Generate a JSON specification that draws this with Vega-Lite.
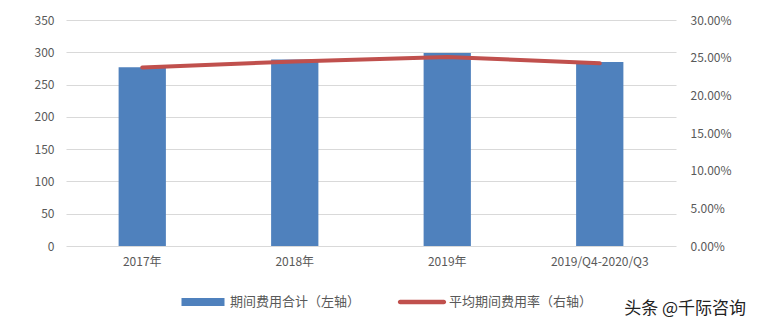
{
  "$schema": "https://vega.github.io/schema/vega-lite/v6.json",
  "width": 610,
  "height": 226,
  "autosize": "none",
  "padding": {"left": 66, "top": 20, "right": 94, "bottom": 82},
  "background": "white",
  "config": {
    "view": {"stroke": null},
    "font": "Noto Sans CJK SC",
    "axis": {"labelFont": "Noto Sans CJK SC", "labelColor": "#595959", "labelFontSize": 12}
  },
  "title": {
    "text": "头条 @千际咨询",
    "orient": "bottom",
    "anchor": "end",
    "fontSize": 17,
    "fontWeight": "normal",
    "color": "#222222",
    "font": "Noto Sans CJK SC",
    "dx": 15,
    "offset": -8
  },
  "data": {
    "values": [
      {"period": "2017年", "expense": 277, "rate": 0.237, "s1": "期间费用合计（左轴）", "s2": "平均期间费用率（右轴）"},
      {"period": "2018年", "expense": 289, "rate": 0.245, "s1": "期间费用合计（左轴）", "s2": "平均期间费用率（右轴）"},
      {"period": "2019年", "expense": 299, "rate": 0.251, "s1": "期间费用合计（左轴）", "s2": "平均期间费用率（右轴）"},
      {"period": "2019/Q4-2020/Q3", "expense": 285, "rate": 0.2425, "s1": "期间费用合计（左轴）", "s2": "平均期间费用率（右轴）"}
    ]
  },
  "encoding": {
    "x": {
      "field": "period",
      "type": "nominal",
      "sort": null,
      "scale": {"paddingInner": 0.69, "paddingOuter": 0.345},
      "axis": {"title": null, "labelAngle": 0, "ticks": false, "domain": false, "labelPadding": 10, "grid": false}
    }
  },
  "layer": [
    {
      "mark": {"type": "bar", "color": "#4F81BD"},
      "encoding": {
        "y": {
          "field": "expense",
          "type": "quantitative",
          "scale": {"domain": [0, 350]},
          "axis": {"title": null, "values": [0, 50, 100, 150, 200, 250, 300, 350], "ticks": false, "domain": false, "gridColor": "#D9D9D9", "gridWidth": 1, "labelPadding": 12}
        },
        "color": {
          "field": "s1",
          "type": "nominal",
          "scale": {"domain": ["期间费用合计（左轴）", "平均期间费用率（右轴）"], "range": ["#4F81BD", "#C0504D"]},
          "legend": {
            "title": null,
            "orient": "none",
            "direction": "horizontal",
            "legendX": 114,
            "legendY": 259,
            "symbolSize": 2116,
            "symbolStrokeWidth": 0,
            "labelFontSize": 13,
            "labelColor": "#595959",
            "labelFont": "Noto Sans CJK SC",
            "labelOffset": 4,
            "columnPadding": 36,
            "encode": {
              "symbols": {
                "update": {
                  "shape": {"signal": "datum.value === '期间费用合计（左轴）' ? 'M-0.935,-0.174H0.935V0.174H-0.935Z' : 'M-0.95,-0.1H0.95A0.1,0.1 0 0 1 0.95,0.1H-0.95A0.1,0.1 0 0 1 -0.95,-0.1Z'"},
                  "strokeWidth": {"value": 0}
                }
              }
            }
          }
        }
      }
    },
    {
      "mark": {"type": "line", "color": "#C0504D", "strokeWidth": 4, "strokeCap": "round"},
      "encoding": {
        "y": {
          "field": "rate",
          "type": "quantitative",
          "scale": {"domain": [0, 0.3]},
          "axis": {"title": null, "orient": "right", "format": ".2%", "values": [0, 0.05, 0.1, 0.15, 0.2, 0.25, 0.3], "ticks": false, "domain": false, "grid": false, "labelPadding": 14}
        },
        "color": {"field": "s2", "type": "nominal"}
      }
    }
  ],
  "resolve": {"scale": {"y": "independent"}}
}
